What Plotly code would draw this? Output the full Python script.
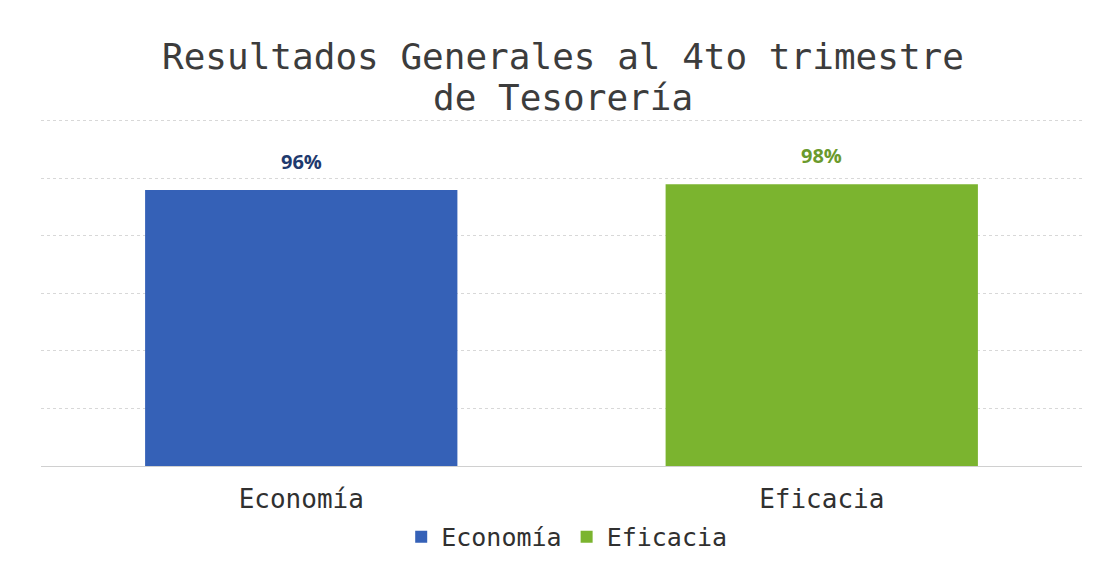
import plotly.graph_objects as go

categories = ["Economía", "Eficacia"]
values = [0.96, 0.98]
labels = ["96%", "98%"]
colors = ["#3561b7", "#7bb42f"]
label_colors = ["#1f3a6e", "#6b9a2c"]
title_lines = ["Resultados Generales al 4to trimestre", "de Tesorería"]

fig = go.Figure()
for i, cat in enumerate(categories):
    fig.add_trace(go.Bar(
        x=[cat], y=[values[i]], name=cat,
        marker=dict(color=colors[i], line=dict(width=0)),
        width=0.6,
    ))
    fig.add_annotation(
        x=cat, y=values[i], xref="x", yref="y",
        text="<b>" + labels[i] + "</b>", showarrow=False,
        yanchor="bottom", yshift=13,
        font=dict(family="Open Sans", size=20, color=label_colors[i]),
    )

title_y = [1.1753, 1.0575]
for line, ty in zip(title_lines, title_y):
    fig.add_annotation(
        x=0.5014, y=ty, xref="paper", yref="paper", text=line, showarrow=False,
        xanchor="center", yanchor="middle",
        font=dict(family="DejaVu Sans Mono", size=36, color="#3c3c3c"),
    )

fig.update_layout(
    width=1100, height=569,
    paper_bgcolor="white", plot_bgcolor="white",
    barmode="overlay",
    margin=dict(l=33, r=26, t=110, b=111),
    xaxis=dict(showline=True, linecolor="#d0d0d0", linewidth=1,
               tickfont=dict(family="DejaVu Sans Mono", size=26, color="#303030"),
               ticks="", showgrid=False, ticklabelstandoff=10),
    yaxis=dict(range=[0, 1.21], tickvals=[0.2, 0.4, 0.6, 0.8, 1.0, 1.2],
               showticklabels=False,
               showgrid=True, gridcolor="#d8d8d8", griddash="dot", zeroline=False),
    legend=dict(orientation="h", x=0.505, xanchor="center", y=-0.204, yanchor="middle",
                font=dict(family="DejaVu Sans Mono", size=25, color="#303030"),
                itemwidth=30, traceorder="normal"),
    showlegend=True,
)

fig.write_html("out.html")
